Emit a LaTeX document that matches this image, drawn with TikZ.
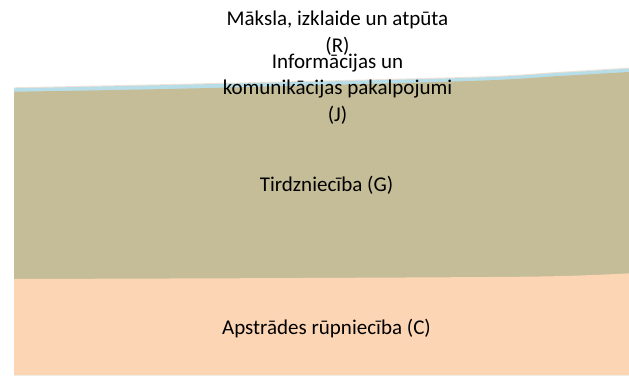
\documentclass[tikz,border=0pt]{standalone}
\usepackage{fontspec}
\setmainfont{Carlito}
\begin{document}
\begin{tikzpicture}[x=1pt,y=-1pt,
  lbl/.style={font=\fontsize{21}{26.5}\selectfont, align=center, inner sep=0pt, text=black}]
\useasboundingbox (0,0) rectangle (629,375);
\definecolor{cC}{HTML}{FCD5B5}
\definecolor{cG}{HTML}{C4BD97}
\definecolor{cJ}{HTML}{B7DEE8}
\definecolor{cR}{HTML}{EEE2D8}
% R layer (top)
\fill[cR] (14,375) -- plot[smooth] coordinates {(14,87.3) (180,83.8) (470,76.8) (560,71.8) (629,67.6)} -- (629,375) -- cycle;
% J layer
\fill[cJ] (14,375) -- plot[smooth] coordinates {(14,88.3) (180,84.8) (470,77.8) (560,72.8) (629,68.6)} -- (629,375) -- cycle;
% G layer
\fill[cG] (14,375) -- plot[smooth] coordinates {(14,91.7) (180,88.7) (470,81) (560,76) (629,72)} -- (629,375) -- cycle;
% C layer
\fill[cC] (14,375) -- plot[smooth] coordinates {(14,279) (300,278) (540,276.5) (629,273.3)} -- (629,375) -- cycle;
% labels
\node[lbl] (r) at (337.5,33) {Māksla, izklaide un atpūta\\(R)};
\node[lbl] (j) at (337.5,89) {Informācijas un\\komunikācijas pakalpojumi\\(J)};
\node[lbl] (g) at (326.5,185) {Tirdzniecība (G)};
\node[lbl] (c) at (326.5,329) {Apstrādes rūpniecība (C)};
\end{tikzpicture}
\end{document}
